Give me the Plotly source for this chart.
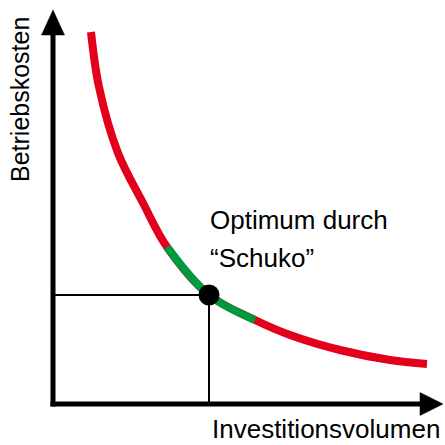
import plotly.graph_objects as go

# Curve points (arbitrary units: investment vs. operating cost)
invest = [38, 46, 65, 90, 114, 156, 202, 237, 287, 337, 374]
cost = [372, 317, 251, 201, 157, 109, 84, 69, 54, 44, 40]
# green "optimum" section (indices 4..6)
opt_invest = invest[4:7]
opt_cost = cost[4:7]
# optimum point
opt_x = [156]
opt_y = [109]

label_x = "Investitionsvolumen"
label_y = "Betriebskosten"
note_1 = "Optimum durch"
note_2 = "\u201cSchuko\u201d"

RED = "#E2001A"
GREEN = "#009A3E"
FONT = "Liberation Sans"

fig = go.Figure()

fig.add_trace(go.Scatter(x=invest, y=cost, mode="lines",
                         line=dict(color=RED, width=8, shape="spline"),
                         hoverinfo="skip", showlegend=False))
fig.add_trace(go.Scatter(x=opt_invest, y=opt_cost, mode="lines",
                         line=dict(color=GREEN, width=8, shape="spline"),
                         hoverinfo="skip", showlegend=False))
fig.add_trace(go.Scatter(x=opt_x, y=opt_y, mode="markers",
                         marker=dict(color="black", size=21),
                         hoverinfo="skip", showlegend=False))

shapes = []
# guide lines to the axes
shapes.append(dict(type="line", x0=0, y0=opt_y[0], x1=opt_x[0], y1=opt_y[0],
                   line=dict(color="black", width=2), layer="below"))
shapes.append(dict(type="line", x0=opt_x[0], y0=0, x1=opt_x[0], y1=opt_y[0],
                   line=dict(color="black", width=2), layer="below"))
# axes
shapes.append(dict(type="line", x0=-2.5, y0=0, x1=370, y1=0,
                   line=dict(color="black", width=5)))
shapes.append(dict(type="line", x0=0, y0=-2.5, x1=0, y1=372,
                   line=dict(color="black", width=5)))
# arrowheads
shapes.append(dict(type="path", path="M 367 -11.5 L 390 0 L 367 11.5 Z",
                   fillcolor="black", line=dict(color="black", width=0.5)))
shapes.append(dict(type="path", path="M -11.5 369 L 0 394 L 11.5 369 Z",
                   fillcolor="black", line=dict(color="black", width=0.5)))

annotations = [
    dict(x=155, y=184, xref="x", yref="y", text=note_1, showarrow=False,
         xanchor="left", yanchor="middle",
         font=dict(family=FONT, size=26, color="black")),
    dict(x=155, y=146, xref="x", yref="y", text=note_2, showarrow=False,
         xanchor="left", yanchor="middle",
         font=dict(family=FONT, size=26, color="black")),
    dict(x=389, y=-25, xref="x", yref="y", text=label_x, showarrow=False,
         xanchor="right", yanchor="middle",
         font=dict(family=FONT, size=26, color="black")),
    dict(x=-33, y=304, xref="x", yref="y", text=label_y, showarrow=False,
         textangle=-90, xanchor="center", yanchor="middle",
         font=dict(family=FONT, size=25, color="black")),
]

fig.update_layout(
    width=445, height=445, autosize=False,
    margin=dict(l=0, r=0, t=0, b=0),
    paper_bgcolor="white", plot_bgcolor="white",
    xaxis=dict(range=[-53, 392], visible=False, fixedrange=True),
    yaxis=dict(range=[-41, 404], visible=False, fixedrange=True),
    shapes=shapes, annotations=annotations,
)

fig.write_html("out.html", config={"displayModeBar": False},
               post_script="document.body.style.margin='0';document.body.style.overflow='hidden';")
